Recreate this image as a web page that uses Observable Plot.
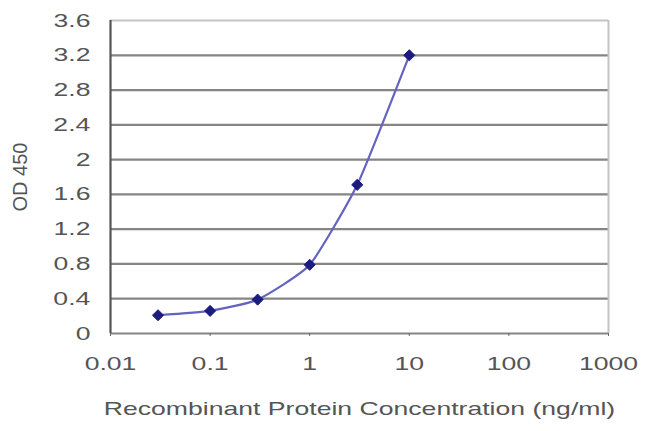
<!DOCTYPE html>
<html>
<head>
<meta charset="utf-8">
<script src="https://cdn.jsdelivr.net/npm/d3@7"></script>
<script src="https://cdn.jsdelivr.net/npm/@observablehq/plot@0.6"></script>
<style>
  html, body { margin: 0; padding: 0; background: #fff; }
  svg { display: block; }
</style>
</head>
<body>
<div id="chart"></div>
<script>
// Data
const concentrations = [0.03, 0.1, 0.3, 1, 3, 10];
const odValues = [0.21, 0.26, 0.39, 0.79, 1.71, 3.2];
const xTicks = [0.01, 0.1, 1, 10, 100, 1000];
const xTickLabels = ["0.01", "0.1", "1", "10", "100", "1000"];
const yTicks = [0, 0.4, 0.8, 1.2, 1.6, 2, 2.4, 2.8, 3.2, 3.6];
const yTickLabels = ["0", "0.4", "0.8", "1.2", "1.6", "2", "2.4", "2.8", "3.2", "3.6"];
const xTitle = "Recombinant Protein Concentration (ng/ml)";
const yTitle = "OD 450";

const data = concentrations.map((c, i) => ({c, od: odValues[i]}));
const innerGrid = yTicks.filter(v => v > 0 && v < 3.6);
const xLabelOf = d => xTickLabels[xTicks.indexOf(d)] ?? String(d);
const yLabelOf = d => yTickLabels[yTicks.findIndex(v => Math.abs(v - d) < 1e-9)] ?? String(d);

const font = "'Liberation Sans', Arial, sans-serif";

const chart = Plot.plot({
  width: 650,
  height: 431,
  marginLeft: 110,
  marginRight: 42,
  marginTop: 20,
  marginBottom: 98,
  style: {fontFamily: font, fontSize: "19px", color: "#555", background: "#fff"},
  x: {type: "log", domain: [0.01, 1000]},
  y: {domain: [0, 3.6]},
  marks: [
    Plot.ruleY(innerGrid, {stroke: "#858585", strokeWidth: 2.2}),
    Plot.ruleY([3.6], {stroke: "#c4c4c4", strokeWidth: 2}),
    Plot.ruleX([1000], {stroke: "#c4c4c4", strokeWidth: 2}),
    Plot.ruleY([0], {stroke: "#858585", strokeWidth: 2.2}),
    Plot.ruleX([0.01], {stroke: "#555", strokeWidth: 2.2}),
    Plot.axisX({
      ticks: xTicks,
      tickFormat: xLabelOf,
      tickSize: 3,
      tickPadding: 20,
      stroke: "#666",
      fill: "#555",
      label: null
    }),
    Plot.axisY({
      ticks: yTicks,
      tickFormat: yLabelOf,
      tickSize: 0,
      tickPadding: 20,
      fill: "#555",
      label: null
    }),
    Plot.line(data, {x: "c", y: "od", stroke: "#6464c0", strokeWidth: 2.2, curve: "cardinal", tension: 0.5}),
    Plot.dot(data, {x: "c", y: "od", symbol: "diamond2", r: 5, fill: "#1c1c7e", stroke: "#1c1c7e", strokeWidth: 1}),
    Plot.text([xTitle], {frameAnchor: "bottom", dy: 75, fill: "#555", fontSize: 19, lineAnchor: "middle", textAnchor: "middle", className: "xtitle"}),
    Plot.text([yTitle], {frameAnchor: "left", dx: -90, rotate: -90, fill: "#555", fontSize: 20, lineAnchor: "middle", textAnchor: "middle", className: "ytitle"})
  ]
});

document.getElementById("chart").appendChild(chart);

// Reference text is horizontally stretched; reproduce by scaling glyphs about their anchor points
d3.select(chart).selectAll("text").each(function() {
  if (this.closest(".ytitle")) return;
  const bb = this.getBBox();
  const anchor = getComputedStyle(this).textAnchor || "start";
  const ax = anchor === "middle" ? bb.x + bb.width / 2 : anchor === "end" ? bb.x + bb.width : bb.x;
  const t = this.getAttribute("transform") || "";
  this.setAttribute("transform", `${t} translate(${ax},0) scale(1.4,1) translate(${-ax},0)`.trim());
});
</script>
</body>
</html>
